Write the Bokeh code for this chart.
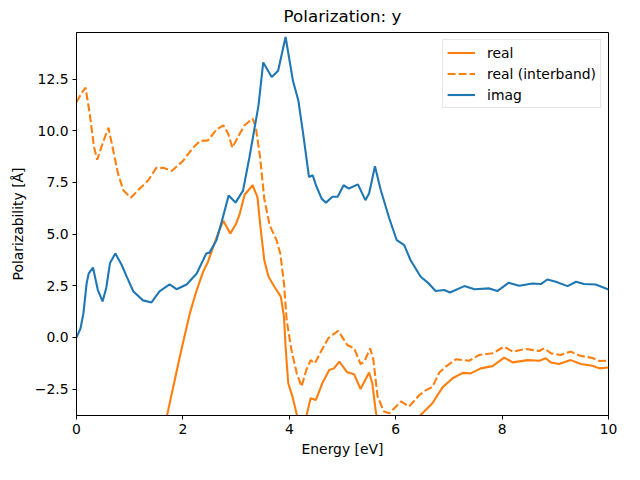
from bokeh.plotting import figure
from bokeh.models import Range1d, FixedTicker, Legend, LegendItem
from bokeh.embed import file_html
from bokeh.resources import INLINE

# ---- data ----
imag_x = [0, 0.075, 0.13, 0.19, 0.23, 0.31, 0.4, 0.49, 0.56, 0.63, 0.73, 0.85, 0.95, 1.07,
          1.25, 1.41, 1.56, 1.75, 1.88, 2.07, 2.26, 2.44, 2.5, 2.63, 2.73, 2.86, 2.99, 3.13,
          3.25, 3.42, 3.51, 3.67, 3.79, 3.93, 4.07, 4.17, 4.26, 4.37, 4.44, 4.51, 4.61, 4.69,
          4.81, 4.91, 5.02, 5.12, 5.29, 5.43, 5.5, 5.61, 5.72, 5.88, 6.02, 6.16, 6.28, 6.47,
          6.62, 6.75, 6.91, 7.02, 7.29, 7.48, 7.76, 7.91, 8.12, 8.32, 8.57, 8.73, 8.85, 9.01,
          9.23, 9.39, 9.54, 9.76, 10.0]
imag_y = [0, 0.43, 1.16, 2.6, 3.1, 3.38, 2.3, 1.74, 2.4, 3.6, 4.06, 3.5, 2.9, 2.22,
          1.79, 1.69, 2.22, 2.56, 2.33, 2.56, 3.09, 4.06, 4.1, 4.7, 5.6, 6.86, 6.52, 7.1,
          8.7, 11.2, 13.3, 12.6, 12.9, 14.53, 12.4, 11.46, 9.86, 7.76, 7.84, 7.3, 6.7, 6.52,
          6.8, 6.8, 7.36, 7.2, 7.4, 6.64, 6.96, 8.28, 7.12, 5.75, 4.7, 4.46, 3.73, 2.93,
          2.61, 2.24, 2.29, 2.17, 2.48, 2.33, 2.37, 2.24, 2.64, 2.5, 2.61, 2.58, 2.8, 2.69,
          2.48, 2.69, 2.58, 2.56, 2.32]

inter_x = [0, 0.09, 0.17, 0.25, 0.33, 0.39, 0.5, 0.6, 0.69, 0.78, 0.88, 1.02, 1.19, 1.35,
           1.5, 1.64, 1.79, 2.0, 2.19, 2.32, 2.47, 2.63, 2.76, 2.85, 2.93, 3.07, 3.16, 3.31,
           3.37, 3.45, 3.53, 3.63, 3.76, 3.83, 3.9, 3.95, 4.04, 4.14, 4.23, 4.32, 4.4, 4.48,
           4.61, 4.73, 4.92, 5.09, 5.22, 5.34, 5.41, 5.52, 5.58, 5.66, 5.78, 5.88, 6.1, 6.25,
           6.44, 6.57, 6.69, 6.82, 6.95, 7.13, 7.38, 7.57, 7.82, 8.04, 8.2, 8.45, 8.7, 8.79,
           8.92, 9.1, 9.29, 9.45, 9.7, 9.83, 10.0]
inter_y = [11.38, 11.8, 12.08, 10.8, 9.2, 8.6, 9.45, 10.14, 9.05, 7.92, 7.12, 6.76, 7.2, 7.6,
           8.2, 8.2, 8.05, 8.53, 9.18, 9.5, 9.53, 10.05, 10.26, 9.86, 9.18, 9.86, 10.26, 10.58,
           10.18, 8.73, 6.7, 5.43, 4.7, 4.06, 2.61, 0.84, -0.61, -1.74, -2.38, -1.58, -1.1, -1.26,
           -0.61, -0.05, 0.32, -0.37, -0.53, -1.29, -1.17, -0.53, -1.09, -2.87, -3.59, -3.67, -3.1, -3.35,
           -2.8, -2.55, -2.4, -1.7, -1.4, -1.06, -1.13, -0.85, -0.77, -0.45, -0.69, -0.56, -0.66, -0.53,
           -0.77, -0.85, -0.69, -0.88, -1.0, -1.14, -1.13]

real_x = [1.3, 1.5, 1.7, 1.82, 1.97, 2.13, 2.26, 2.38, 2.47, 2.57, 2.66, 2.76, 2.89, 3.0,
          3.07, 3.16, 3.31, 3.4, 3.46, 3.53, 3.61, 3.72, 3.84, 3.9, 3.93, 3.98, 4.06, 4.15,
          4.23, 4.32, 4.4, 4.5, 4.62, 4.75, 4.84, 4.94, 5.09, 5.22, 5.34, 5.5, 5.56, 5.63,
          5.75, 6.0, 6.25, 6.44, 6.69, 6.88, 7.07, 7.26, 7.41, 7.6, 7.82, 8.04, 8.2, 8.48,
          8.7, 8.82, 8.92, 9.07, 9.29, 9.48, 9.7, 9.83, 10.0]
real_y = [-7.0, -5.5, -3.8, -2.38, -0.61, 1.16, 2.29, 3.17, 3.65, 4.38, 5.02, 5.64, 5.02, 5.5,
          5.99, 6.9, 7.36, 6.8, 5.3, 3.73, 2.93, 2.45, 1.97, 1.0, -0.45, -2.22, -2.87, -3.83,
          -4.3, -3.83, -2.95, -3.03, -2.22, -1.58, -1.5, -1.17, -1.69, -1.79, -2.5, -1.7, -2.22, -3.67,
          -4.6, -5.0, -4.5, -3.83, -3.19, -2.42, -1.98, -1.72, -1.74, -1.5, -1.39, -0.98, -1.21, -1.1,
          -1.13, -1.01, -1.22, -1.29, -1.1, -1.29, -1.37, -1.5, -1.46]

x_ticks = [0, 2, 4, 6, 8, 10]
y_ticks = [-2.5, 0.0, 2.5, 5.0, 7.5, 10.0, 12.5]
y_tick_labels = ["\u22122.5", "0.0", "2.5", "5.0", "7.5", "10.0", "12.5"]

title_text = "Polarization: y"
x_label = "Energy [eV]"
y_label = "Polarizability [\u00c5]"
series_names = ["real", "real (interband)", "imag"]

ORANGE = "#ff7f0e"
BLUE = "#1f77b4"
FONT = "DejaVu Sans"

p = figure(width=624, height=464, output_backend="svg", toolbar_location=None,
           x_range=Range1d(0, 10), y_range=Range1d(-3.78, 14.75),
           min_border_left=76, min_border_right=16, min_border_top=29, min_border_bottom=49,
           title=title_text)

p.title.align = "center"
p.title.vertical_align = "top"
p.title.text_font = FONT
p.title.text_font_size = "16.7px"
p.title.text_font_style = "normal"
p.title.text_color = "black"

p.grid.visible = False
p.outline_line_color = "black"
p.outline_line_width = 1
p.outline_line_alpha = 1
p.background_fill_color = "white"
p.border_fill_color = "white"

for ax in [p.xaxis[0], p.yaxis[0]]:
    ax.axis_line_color = "black"
    ax.major_tick_line_color = "black"
    ax.major_tick_out = 4
    ax.major_tick_in = 0
    ax.minor_tick_line_color = None
    ax.major_label_text_font = FONT
    ax.major_label_text_font_size = "13.9px"
    ax.major_label_text_color = "black"
    ax.axis_label_text_font = FONT
    ax.axis_label_text_font_size = "13.9px"
    ax.axis_label_text_font_style = "normal"
    ax.axis_label_text_color = "black"
    ax.major_label_standoff = 4

p.xaxis[0].ticker = FixedTicker(ticks=x_ticks)
p.yaxis[0].ticker = FixedTicker(ticks=y_ticks)
p.yaxis[0].major_label_overrides = {t: l for t, l in zip(y_ticks, y_tick_labels)}
p.xaxis[0].axis_label = x_label
p.yaxis[0].axis_label = y_label
p.xaxis[0].axis_label_standoff = 4
p.yaxis[0].axis_label_standoff = 6

r_real = p.line(real_x, real_y, line_color=ORANGE, line_width=2.1)
r_inter = p.line(inter_x, inter_y, line_color=ORANGE, line_width=2.1, line_dash="8 3")
r_imag = p.line(imag_x, imag_y, line_color=BLUE, line_width=2.1)

legend = Legend(items=[LegendItem(label=series_names[0], renderers=[r_real]),
                       LegendItem(label=series_names[1], renderers=[r_inter]),
                       LegendItem(label=series_names[2], renderers=[r_imag])],
                location="top_right")
legend.margin = 7
legend.padding = 4
legend.spacing = 4
legend.glyph_width = 28
legend.glyph_height = 17
legend.label_height = 17
legend.label_standoff = 12
legend.label_text_font = FONT
legend.label_text_font_size = "13.9px"
legend.label_text_color = "black"
legend.border_line_color = "#cccccc"
legend.border_line_width = 1
legend.background_fill_color = "white"
legend.background_fill_alpha = 0.8
p.add_layout(legend, "center")

open("out.html", "w").write(file_html(p, INLINE))
